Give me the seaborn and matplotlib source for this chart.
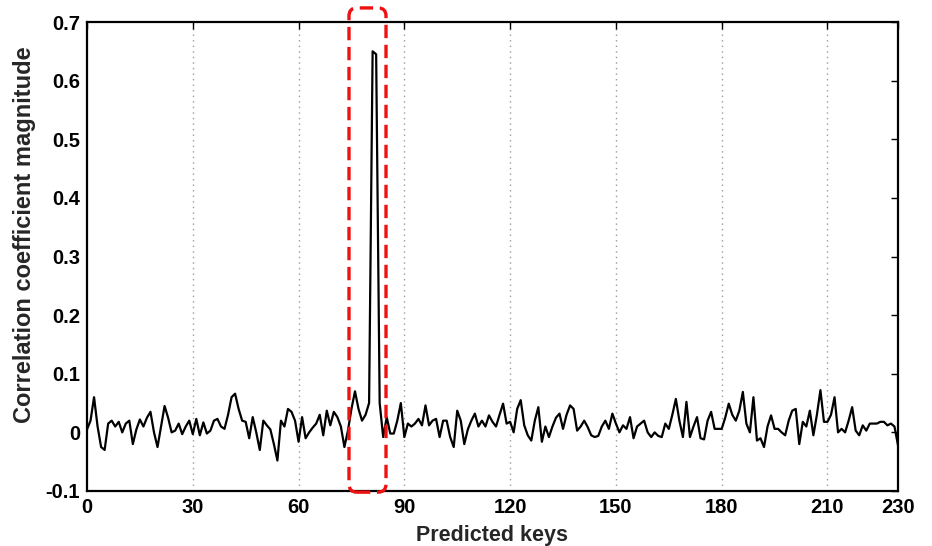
import numpy as np
import pandas as pd
import matplotlib
matplotlib.use("Agg")
import matplotlib.pyplot as plt
from matplotlib.patches import FancyBboxPatch
from matplotlib.ticker import FuncFormatter
import seaborn as sns

# ---- data ----
keys = list(range(0, 231))
corr = [
    0.005, 0.02, 0.06, 0.01, -0.025, -0.03, 0.015, 0.02, 0.01, 0.018,
    0.0, 0.015, 0.02, -0.02, 0.005, 0.022, 0.01, 0.025, 0.035, 0.0,
    -0.025, 0.01, 0.045, 0.025, 0.0, 0.003, 0.015, -0.003, 0.01, 0.02,
    -0.003, 0.023, -0.005, 0.017, -0.002, 0.003, 0.02, 0.023, 0.01, 0.006,
    0.03, 0.06, 0.066, 0.04, 0.02, 0.018, -0.01, 0.026, 0.0, -0.03,
    0.02, 0.012, 0.005, -0.02, -0.048, 0.02, 0.01, 0.04, 0.035, 0.02,
    -0.016, 0.026, -0.01, 0.0, 0.008, 0.015, 0.03, -0.005, 0.037, 0.012,
    0.035, 0.026, 0.01, -0.025, 0.003, 0.04, 0.07, 0.04, 0.02, 0.03,
    0.05, 0.65, 0.645, 0.05, -0.008, 0.026, -0.002, -0.002, 0.02, 0.05,
    -0.008, 0.015, 0.01, 0.015, 0.023, 0.012, 0.046, 0.012, 0.02, 0.023,
    -0.008, 0.02, 0.02, -0.008, -0.025, 0.037, 0.02, -0.02, 0.005, 0.02,
    0.032, 0.01, 0.02, 0.01, 0.029, 0.018, 0.01, 0.03, 0.049, 0.015,
    0.018, 0.0, 0.04, 0.055, 0.012, -0.005, -0.014, 0.02, 0.043, -0.016,
    0.01, -0.008, 0.01, 0.025, 0.032, 0.006, 0.03, 0.046, 0.04, 0.003,
    0.01, 0.02, 0.009, -0.005, -0.008, -0.006, 0.01, 0.02, 0.006, 0.032,
    0.015, 0.0, 0.012, 0.006, 0.026, -0.01, 0.01, 0.015, 0.02, 0.0,
    -0.008, 0.0, -0.006, -0.008, 0.015, 0.006, 0.03, 0.057, 0.02, -0.008,
    0.052, -0.008, 0.01, 0.026, -0.01, -0.012, 0.02, 0.035, 0.006, 0.006,
    0.006, 0.025, 0.049, 0.03, 0.02, 0.037, 0.069, 0.015, 0.0, 0.06,
    -0.014, -0.01, -0.025, 0.01, 0.029, 0.006, 0.006, 0.0, -0.005, 0.02,
    0.037, 0.04, -0.02, 0.018, 0.01, 0.037, -0.005, 0.03, 0.072, 0.018,
    0.018, 0.03, 0.06, 0.0, 0.006, 0.0, 0.02, 0.043, 0.003, -0.005,
    0.012, 0.003, 0.015, 0.015, 0.015, 0.018, 0.018, 0.012, 0.015, 0.01,
    -0.022,
]
x_ticks = [0, 30, 60, 90, 120, 150, 180, 210, 230]
y_ticks = [-0.1, 0.0, 0.1, 0.2, 0.3, 0.4, 0.5, 0.6, 0.7]
highlight_x = [74.3, 84.8]
highlight_y = [-0.102, 0.724]

df = pd.DataFrame({"key": keys, "corr": corr})

sns.set_style("white")
plt.rcParams["font.family"] = ["Liberation Sans", "DejaVu Sans"]
plt.rcParams["font.weight"] = "bold"

fig = plt.figure(figsize=(9.32, 5.46), dpi=100)
ax = fig.add_axes([87 / 932, 1 - 491 / 546, (898 - 87) / 932, (491 - 22) / 546])

sns.lineplot(data=df, x="key", y="corr", ax=ax, color="black", linewidth=1.6)

ax.set_xlim(0, 230)
ax.set_ylim(-0.1, 0.7)
ax.set_xticks(x_ticks)
ax.set_yticks(y_ticks)
ax.yaxis.set_major_formatter(FuncFormatter(lambda v, p: "0" if abs(v) < 1e-9 else f"{v:.1f}"))

for xt in x_ticks[1:-1]:
    ax.axvline(xt, color="#9a9a9a", linestyle=(0, (1, 3)), linewidth=1.0, zorder=0)

ax.tick_params(axis="both", direction="in", length=5, width=1, labelsize=14.5,
               top=True, right=True, colors="black")
for lab in ax.get_xticklabels() + ax.get_yticklabels():
    lab.set_fontweight("bold")
ax.tick_params(axis="x", pad=5)
ax.tick_params(axis="y", pad=5)

for s in ax.spines.values():
    s.set_visible(True)
    s.set_color("black")
    s.set_linewidth(1.6)

ax.set_xlabel("Predicted keys", fontsize=15.5, fontweight="bold")
ax.set_ylabel("Correlation coefficient magnitude", fontsize=17, fontweight="bold")
ax.xaxis.set_label_coords(0.5, -(535 - 491) / 469, transform=ax.transAxes)
ax.xaxis.label.set_va("center")
ax.yaxis.set_label_coords(-(87 - 25) / 811, (491 - 235) / 469, transform=ax.transAxes)
ax.yaxis.label.set_va("center")

# highlight box (data coords), rounded corners
x_per_px = 230 / (898 - 87)
y_per_px = 0.8 / (491 - 22)
box = FancyBboxPatch((highlight_x[0], highlight_y[0]),
                     highlight_x[1] - highlight_x[0], highlight_y[1] - highlight_y[0],
                     boxstyle=f"round,pad=0,rounding_size={8 * x_per_px}",
                     mutation_aspect=y_per_px / x_per_px,
                     fill=False, edgecolor="#ee1111", linewidth=2.4,
                     linestyle=(0, (4, 2)), clip_on=False, zorder=5)
ax.add_patch(box)

fig.savefig("out.png", dpi=100)
